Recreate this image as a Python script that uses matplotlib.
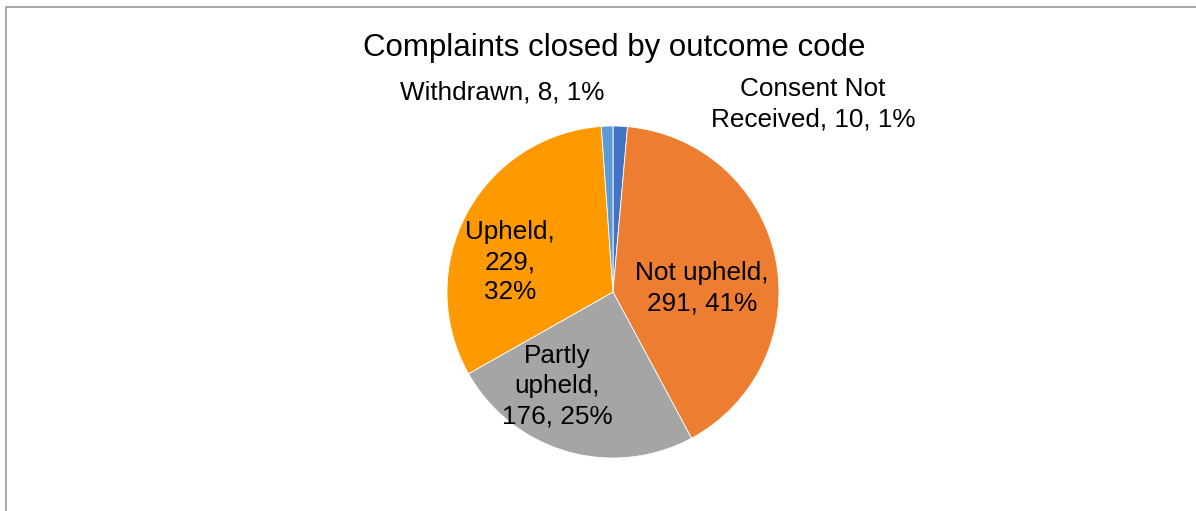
import matplotlib
matplotlib.use("Agg")
import matplotlib.pyplot as plt
from matplotlib.patches import Rectangle

plt.rcParams['font.family'] = ['Liberation Sans', 'DejaVu Sans']

# Data (clockwise from 12 o'clock)
categories = ["Consent Not Received", "Not upheld", "Partly upheld", "Upheld", "Withdrawn"]
counts = [10, 291, 176, 229, 8]
colors = ["#4472C4", "#ED7D31", "#A5A5A5", "#FF9900", "#5B9BD5"]
title = "Complaints closed by outcome code"

W, H = 1196, 511
fig = plt.figure(figsize=(W / 100, H / 100), dpi=100)
ax = fig.add_axes([0, 0, 1, 1])

wedges, _ = ax.pie(counts, colors=colors, startangle=90, counterclock=False,
                   radius=1.0, wedgeprops=dict(edgecolor="white", linewidth=0.6))

# map pie units to pixels: centre at (613, 292), radius 166 px
cx, cy, r = 613.0, 292.0, 166.0
ax.set_xlim(-cx / r, (W - cx) / r)
ax.set_ylim(-(H - cy) / r, cy / r)
ax.set_aspect('auto')
ax.axis('off')

total = sum(counts)
pcts = [round(100 * c / total) for c in counts]

label_texts = [
    "Consent Not\nReceived, {}, {}%".format(counts[0], pcts[0]),
    "Not upheld,\n{}, {}%".format(counts[1], pcts[1]),
    "Partly\nupheld,\n{}, {}%".format(counts[2], pcts[2]),
    "Upheld,\n{},\n{}%".format(counts[3], pcts[3]),
    "Withdrawn, {}, {}%".format(counts[4], pcts[4]),
]
# label centres in pixel space (layout)
label_px = [(813, 104), (702, 288), (557, 386), (510, 262), (502, 92)]
for t, (px, py) in zip(label_texts, label_px):
    ax.text((px - cx) / r, (cy - py) / r, t, ha="center", va="center",
            fontsize=18.8, color="black", linespacing=1.33)

fig.text(614 / W, 1 - 48 / H, title, ha="center", va="center", fontsize=22.5, color="black")

# chart frame (partially outside the image)
fig.patches.append(Rectangle((5.5 / W, -0.1), 1.2, 1 - 7.5 / H + 0.1, transform=fig.transFigure,
                             fill=False, edgecolor="#A0A0A0", linewidth=1.3))

fig.savefig("out.png", dpi=100)
